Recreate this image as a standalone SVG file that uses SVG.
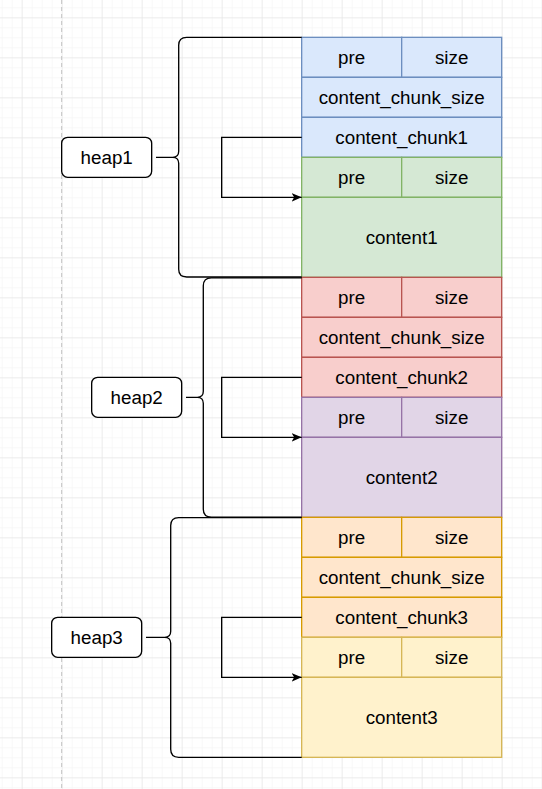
<svg xmlns="http://www.w3.org/2000/svg" width="542" height="789" viewBox="0 0 542 789">
<defs>
<pattern id="minor" x="1.67" y="7.33" width="10" height="10" patternUnits="userSpaceOnUse">
<path d="M0,0 H10 M0,0 V10" fill="none" stroke="#f2f2f2" stroke-width="1"/>
</pattern>
<pattern id="major" x="21.67" y="17.33" width="40" height="40" patternUnits="userSpaceOnUse">
<path d="M0,0 H40 M0,0 V40" fill="none" stroke="#e2e2e2" stroke-width="1"/>
</pattern>
<marker id="arr" viewBox="0 0 10 10" refX="10" refY="5" markerWidth="10" markerHeight="10" markerUnits="userSpaceOnUse" orient="auto">
<path d="M0,0.8 L10,5 L0,9.2 L2.5,5 z" fill="#000" stroke="none"/>
</marker>
<style>
text{font-family:"Liberation Sans",Arial,Helvetica,sans-serif;font-size:18.8px;fill:#000;text-anchor:middle}
.c{stroke-width:1.33}
.blue{fill:#dae8fc;stroke:#6c8ebf}
.green{fill:#d5e8d4;stroke:#82b366}
.red{fill:#f8cecc;stroke:#b85450}
.purple{fill:#e1d5e7;stroke:#9673a6}
.orange{fill:#ffe6cc;stroke:#d79b00}
.yellow{fill:#fff2cc;stroke:#d6b656}
.lbl{fill:#fff;stroke:#000;stroke-width:1.33}
.link{fill:none;stroke:#000;stroke-width:1.33}
</style>
</defs>
<rect width="542" height="789" fill="#fff"/>
<rect width="542" height="789" fill="url(#minor)"/>
<rect width="542" height="789" fill="url(#major)"/>
<line x1="61.67" y1="0" x2="61.67" y2="789" stroke="#c4c4c4" stroke-width="1" stroke-dasharray="4,3"/>

<g id="heap1-chunk">
<rect class="c blue" x="301.67" y="37.33" width="100" height="40"/><text x="351.67" y="63.8">pre</text>
<rect class="c blue" x="401.67" y="37.33" width="100" height="40"/><text x="451.67" y="63.8">size</text>
<rect class="c blue" x="301.67" y="77.33" width="200" height="40"/><text x="401.67" y="103.8">content_chunk_size</text>
<rect class="c blue" x="301.67" y="117.33" width="200" height="40"/><text x="401.67" y="143.8">content_chunk1</text>
</g>
<g id="content1-chunk">
<rect class="c green" x="301.67" y="157.33" width="100" height="40"/><text x="351.67" y="183.8">pre</text>
<rect class="c green" x="401.67" y="157.33" width="100" height="40"/><text x="451.67" y="183.8">size</text>
<rect class="c green" x="301.67" y="197.33" width="200" height="80"/><text x="401.67" y="243.8">content1</text>
</g>
<g id="heap2-chunk">
<rect class="c red" x="301.67" y="277.33" width="100" height="40"/><text x="351.67" y="303.8">pre</text>
<rect class="c red" x="401.67" y="277.33" width="100" height="40"/><text x="451.67" y="303.8">size</text>
<rect class="c red" x="301.67" y="317.33" width="200" height="40"/><text x="401.67" y="343.8">content_chunk_size</text>
<rect class="c red" x="301.67" y="357.33" width="200" height="40"/><text x="401.67" y="383.8">content_chunk2</text>
</g>
<g id="content2-chunk">
<rect class="c purple" x="301.67" y="397.33" width="100" height="40"/><text x="351.67" y="423.8">pre</text>
<rect class="c purple" x="401.67" y="397.33" width="100" height="40"/><text x="451.67" y="423.8">size</text>
<rect class="c purple" x="301.67" y="437.33" width="200" height="80"/><text x="401.67" y="483.8">content2</text>
</g>
<g id="heap3-chunk">
<rect class="c orange" x="301.67" y="517.33" width="100" height="40"/><text x="351.67" y="543.8">pre</text>
<rect class="c orange" x="401.67" y="517.33" width="100" height="40"/><text x="451.67" y="543.8">size</text>
<rect class="c orange" x="301.67" y="557.33" width="200" height="40"/><text x="401.67" y="583.8">content_chunk_size</text>
<rect class="c orange" x="301.67" y="597.33" width="200" height="40"/><text x="401.67" y="623.8">content_chunk3</text>
</g>
<g id="content3-chunk">
<rect class="c yellow" x="301.67" y="637.33" width="100" height="40"/><text x="351.67" y="663.8">pre</text>
<rect class="c yellow" x="401.67" y="637.33" width="100" height="40"/><text x="451.67" y="663.8">size</text>
<rect class="c yellow" x="301.67" y="677.33" width="200" height="80"/><text x="401.67" y="723.8">content3</text>
</g>

<g id="heap1">
<rect class="lbl" x="61.67" y="137.33" width="90" height="40" rx="6"/><text x="106.67" y="163.8">heap1</text>
</g>
<g id="heap2">
<rect class="lbl" x="91.67" y="377.33" width="90" height="40" rx="6"/><text x="136.67" y="403.8">heap2</text>
</g>
<g id="heap3">
<rect class="lbl" x="51.67" y="617.33" width="90" height="40" rx="6"/><text x="96.67" y="643.8">heap3</text>
</g>

<g id="brace1">
<path class="link" d="M301.67,37.33 H186.7 Q178.7,37.33 178.7,45.33 V151.33 Q178.7,157.33 172.7,157.33 H156 M172.7,157.33 Q178.7,157.33 178.7,163.33 V269.33 Q178.7,277 186.7,277 H301.67"/>
</g>
<g id="brace2">
<path class="link" d="M301.67,277.8 H211.3 Q203.3,277.8 203.3,285.8 V391.33 Q203.3,397.33 197.3,397.33 H186 M197.3,397.33 Q203.3,397.33 203.3,403.33 V509.33 Q203.3,517.1 211.3,517.1 H301.67"/>
</g>
<g id="brace3">
<path class="link" d="M301.67,517.6 H178.7 Q170.7,517.6 170.7,525.6 V631.33 Q170.7,637.33 164.7,637.33 H146 M164.7,637.33 Q170.7,637.33 170.7,643.33 V749.33 Q170.7,757.33 178.7,757.33 H301.67"/>
</g>

<g id="connectors">
<path class="link" d="M301.67,137.33 H221.67 V197.33 H301.67" marker-end="url(#arr)"/>
<path class="link" d="M301.67,377.33 H221.67 V437.33 H301.67" marker-end="url(#arr)"/>
<path class="link" d="M301.67,617.33 H221.67 V677.33 H301.67" marker-end="url(#arr)"/>
</g>
</svg>
